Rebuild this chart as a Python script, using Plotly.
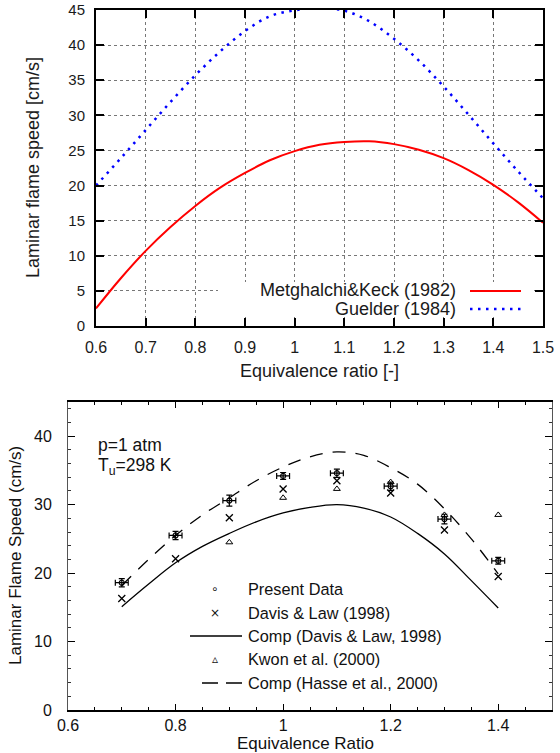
import plotly.graph_objects as go

# ---------------- top panel data ----------------
phi_top = [0.60, 0.65, 0.70, 0.75, 0.80, 0.85, 0.90, 0.95, 1.00, 1.05,
           1.10, 1.15, 1.20, 1.25, 1.30, 1.35, 1.40, 1.45, 1.50]
metghalchi = [2.5, 6.8, 10.7, 14.1, 17.1, 19.7, 21.8, 23.6, 24.9, 25.8,
              26.2, 26.3, 25.9, 25.1, 23.9, 22.2, 20.1, 17.6, 14.7]
guelder = [20.0, 23.9, 27.9, 31.9, 35.7, 39.1, 42.0, 44.1, 44.95, 45.3,
           44.9, 43.4, 40.9, 37.8, 34.1, 30.1, 26.0, 22.0, 18.2]
top_xticks = [0.6, 0.7, 0.8, 0.9, 1.0, 1.1, 1.2, 1.3, 1.4, 1.5]
top_xtext = ["0.6", "0.7", "0.8", "0.9", "1", "1.1", "1.2", "1.3", "1.4", "1.5"]
top_yticks = [0, 5, 10, 15, 20, 25, 30, 35, 40, 45]

# ---------------- bottom panel data ----------------
phi_data = [0.7, 0.8, 0.9, 1.0, 1.1, 1.2, 1.3, 1.4]
present = [18.6, 25.5, 30.6, 34.2, 34.6, 32.7, 27.9, 21.8]
present_err = [0.6, 0.6, 0.8, 0.5, 0.6, 0.6, 0.7, 0.5]
davis = [16.3, 22.1, 28.1, 32.3, 33.5, 31.7, 26.3, 19.5]
phi_kwon = [0.9, 1.0, 1.1, 1.2, 1.3, 1.4]
kwon = [24.5, 31.0, 32.3, 33.3, 28.5, 28.5]
phi_comp = [0.70, 0.75, 0.80, 0.85, 0.90, 0.95, 1.00, 1.05, 1.10, 1.15,
            1.20, 1.25, 1.30, 1.35, 1.40]
comp_davis = [15.1, 18.4, 21.5, 23.9, 25.8, 27.5, 28.8, 29.6, 30.0, 29.5,
              28.2, 25.8, 22.8, 18.9, 14.9]
comp_hasse = [18.2, 22.0, 25.5, 28.5, 31.0, 33.5, 35.5, 37.0, 37.7, 37.2,
              35.4, 33.0, 29.4, 25.0, 19.9]
bot_xticks = [0.6, 0.8, 1.0, 1.2, 1.4]
bot_xtext = ["0.6", "0.8", "1", "1.2", "1.4"]
bot_yticks = [0, 10, 20, 30, 40]

FONT = "Liberation Sans, Arial, sans-serif"

fig = go.Figure()

# top traces
fig.add_trace(go.Scatter(x=phi_top, y=metghalchi, mode="lines", line_shape="spline",
                         line=dict(color="#ff0000", width=2), showlegend=False,
                         xaxis="x", yaxis="y"))
fig.add_trace(go.Scatter(x=phi_top, y=guelder, mode="lines", line_shape="spline",
                         line=dict(color="#0000ff", width=2.5, dash="2.5px,5.5px"), showlegend=False,
                         xaxis="x", yaxis="y"))

# bottom traces
fig.add_trace(go.Scatter(x=phi_comp, y=comp_davis, mode="lines", line_shape="spline",
                         line=dict(color="black", width=1.3), showlegend=False,
                         xaxis="x2", yaxis="y2"))
fig.add_trace(go.Scatter(x=phi_comp, y=comp_hasse, mode="lines", line_shape="spline",
                         line=dict(color="black", width=1.3, dash="13px,10px"), showlegend=False,
                         xaxis="x2", yaxis="y2"))
fig.add_trace(go.Scatter(x=phi_data, y=present, mode="markers",
                         marker=dict(symbol="circle-open", size=5, color="black", line=dict(width=1.2)),
                         error_y=dict(type="data", array=present_err, color="black", thickness=1.2, width=3),
                         error_x=dict(type="constant", value=0.012, color="black", thickness=1.2, width=3),
                         showlegend=False, xaxis="x2", yaxis="y2"))
fig.add_trace(go.Scatter(x=phi_data, y=davis, mode="markers",
                         marker=dict(symbol="x-thin-open", size=7, color="black", line=dict(width=1.3, color="black")),
                         showlegend=False, xaxis="x2", yaxis="y2"))
fig.add_trace(go.Scatter(x=phi_kwon, y=kwon, mode="markers",
                         marker=dict(symbol="triangle-up-open", size=6, color="black", line=dict(width=1, color="black")),
                         showlegend=False, xaxis="x2", yaxis="y2"))

tickfont_top = dict(family=FONT, size=15, color="#1a1a1a")

fig.update_layout(
    width=560, height=753,
    margin=dict(l=0, r=0, t=0, b=0, autoexpand=False),
    paper_bgcolor="white", plot_bgcolor="white",
    font=dict(family=FONT, color="#111"),
    xaxis=dict(domain=[96/560, 543/560], range=[0.6, 1.5], tickvals=top_xticks, ticktext=top_xtext,
               ticks="inside", ticklen=8, tickwidth=1.5, tickcolor="black", mirror="allticks",
               showline=True, linewidth=2, linecolor="black",
               showgrid=True, gridcolor="#777", griddash="dot", gridwidth=1, zeroline=False,
               tickfont=dict(family=FONT, size=16, color="#1a1a1a"), anchor="y", ticklabelstandoff=6),
    yaxis=dict(domain=[1-326/753, 1-10/753], range=[0, 45], tickvals=top_yticks,
               ticks="inside", ticklen=8, tickwidth=1.5, tickcolor="black", mirror="allticks",
               showline=True, linewidth=2, linecolor="black",
               showgrid=True, gridcolor="#777", griddash="dot", gridwidth=1, zeroline=False,
               tickfont=tickfont_top, anchor="x", ticklabelstandoff=6),
    xaxis2=dict(domain=[68/560, 552/560], range=[0.6, 1.5], tickvals=bot_xticks, ticktext=bot_xtext,
                ticks="inside", ticklen=6, tickwidth=1, tickcolor="black", mirror="allticks",
                minor=dict(ticks="inside", dtick=0.05, tick0=0.6, ticklen=3, tickcolor="black", showgrid=False),
                showline=True, linewidth=2, linecolor="black", showgrid=False, zeroline=False,
                tickfont=dict(family=FONT, size=16, color="#111"), anchor="y2"),
    yaxis2=dict(domain=[1-710/753, 1-402/753], range=[0, 45], tickvals=bot_yticks,
                ticks="inside", ticklen=7, tickwidth=1, tickcolor="black", mirror="allticks",
                minor=dict(ticks="inside", dtick=2, tick0=0, ticklen=3, tickcolor="#333", showgrid=False),
                showline=True, linewidth=1, linecolor="#555", showgrid=False, zeroline=False,
                tickfont=dict(family=FONT, size=16, color="#111"), anchor="x2", ticklabelstandoff=12),
)

shapes = []
# top legend: white box covering grid (kept clear of the tick marks)
shapes.append(dict(type="rect", xref="x domain", yref="y domain", x0=(218-96)/447, x1=(533-96)/447,
                   y0=9/316, y1=(326-282)/316, fillcolor="white", line=dict(width=0), layer="above"))
shapes.append(dict(type="line", xref="x domain", yref="y domain", x0=(470-96)/447, x1=(521-96)/447,
                   y0=(326-291)/316, y1=(326-291)/316, line=dict(color="#ff0000", width=2), layer="above"))
shapes.append(dict(type="line", xref="x domain", yref="y domain", x0=(470-96)/447, x1=(521-96)/447,
                   y0=(326-309)/316, y1=(326-309)/316, line=dict(color="#0000ff", width=2.5, dash="2.5px,5.5px"),
                   layer="above"))
# bottom legend lines
shapes.append(dict(type="line", xref="x2 domain", yref="y2 domain", x0=(190-68)/484, x1=(242-68)/484,
                   y0=(710-636)/308, y1=(710-636)/308, line=dict(color="black", width=1.3), layer="above"))
shapes.append(dict(type="line", xref="x2 domain", yref="y2 domain", x0=(202-68)/484, x1=(242-68)/484,
                   y0=(710-683)/308, y1=(710-683)/308, line=dict(color="black", width=1.3, dash="16px,8px"),
                   layer="above"))

annotations = []
# top legend text
for txt, yy in [("Metghalchi&Keck (1982)", 290), ("Guelder (1984)", 309)]:
    annotations.append(dict(text=txt, xref="x domain", yref="y domain", x=(458-96)/447, y=(326-yy)/316,
                            xanchor="right", yanchor="middle", showarrow=False,
                            font=dict(family=FONT, size=18, color="#1a1a1a")))
# axis titles
annotations.append(dict(text="Laminar flame speed [cm/s]", xref="paper", yref="paper", x=33/560, y=1-168/753,
                        textangle=-90, xanchor="center", yanchor="middle", showarrow=False,
                        font=dict(family=FONT, size=18, color="#1a1a1a")))
annotations.append(dict(text="Equivalence ratio [-]", xref="paper", yref="paper", x=319.5/560, y=1-371/753,
                        xanchor="center", yanchor="middle", showarrow=False,
                        font=dict(family=FONT, size=18, color="#1a1a1a")))
annotations.append(dict(text="Laminar Flame Speed (cm/s)", xref="paper", yref="paper", x=15/560, y=1-556/753,
                        textangle=-90, xanchor="center", yanchor="middle", showarrow=False,
                        font=dict(family=FONT, size=17, color="#111")))
annotations.append(dict(text="Equivalence Ratio", xref="paper", yref="paper", x=305/560, y=1-743/753,
                        xanchor="center", yanchor="middle", showarrow=False,
                        font=dict(family=FONT, size=17, color="#111")))
# condition labels
annotations.append(dict(text="p=1 atm", xref="x2 domain", yref="y2 domain", x=(96-68)/484, y=(710-445)/308,
                        xanchor="left", yanchor="middle", showarrow=False,
                        font=dict(family=FONT, size=17.5, color="#111")))
annotations.append(dict(text="T<sub>u</sub>=298 K", xref="x2 domain", yref="y2 domain", x=(96-68)/484, y=(710-466)/308,
                        xanchor="left", yanchor="middle", showarrow=False,
                        font=dict(family=FONT, size=17.5, color="#111")))
# bottom legend
leg_rows = [("Present Data", "∘", 589), ("Davis & Law (1998)", "×", 613),
            ("Comp (Davis & Law, 1998)", "", 636), ("Kwon et al. (2000)", "▵", 659),
            ("Comp (Hasse et al., 2000)", "", 683)]
for txt, sym, yy in leg_rows:
    annotations.append(dict(text=txt, xref="x2 domain", yref="y2 domain", x=(246-68)/484, y=(710-yy)/308,
                            xanchor="left", yanchor="middle", showarrow=False,
                            font=dict(family=FONT, size=16.3, color="#111")))
    if sym:
        annotations.append(dict(text=sym, xref="x2 domain", yref="y2 domain", x=(215-68)/484, y=(710-yy)/308,
                                xanchor="center", yanchor="middle", showarrow=False,
                                font=dict(family="DejaVu Sans, sans-serif", size=12, color="#111")))

fig.update_layout(shapes=shapes, annotations=annotations)
fig.write_html("out.html",
               post_script="document.body.style.margin='0px';document.body.style.overflow='hidden';")
